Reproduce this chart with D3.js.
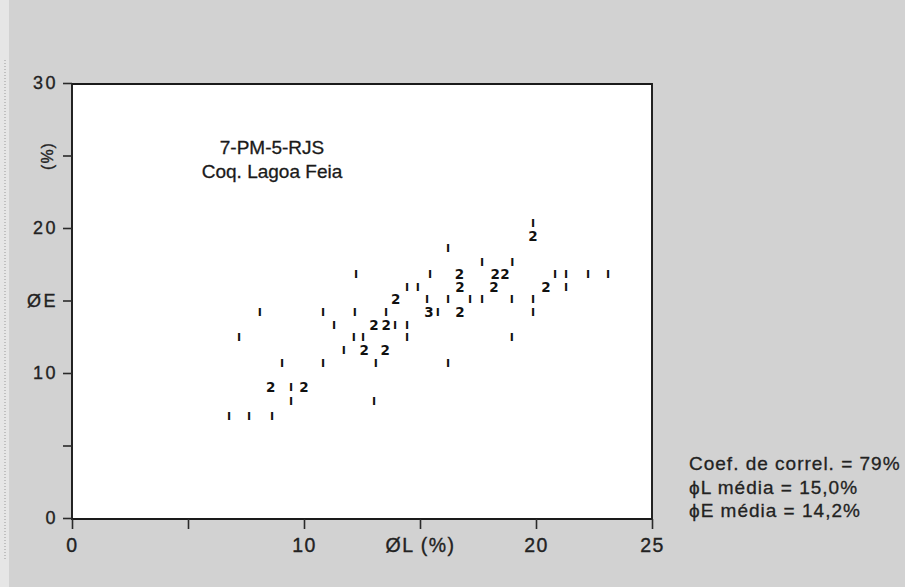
<!DOCTYPE html>
<html><head><meta charset="utf-8">
<script src="https://cdn.jsdelivr.net/npm/d3@7"></script>
<style>body{margin:0;background:#d2d2d2}svg{display:block}</style>
</head><body><svg id="c" width="905" height="587"></svg>
<script>
// ---- data (ØL %, ØE %, number of samples at that position) ----
const phiL = [19.87, 19.87, 16.21, 17.67, 18.98,
  12.24, 15.43, 16.70, 18.24, 18.66, 20.82, 21.29, 22.24, 23.11,
  14.44, 14.90, 16.72, 18.19, 20.43, 21.29,
  13.95, 15.30, 16.21, 17.16, 17.67, 18.96, 19.87,
  8.10, 10.82, 12.19, 13.54, 15.39, 15.77, 16.72, 19.87,
  11.30, 13.02, 13.54, 13.92, 14.44,
  7.20, 12.15, 12.55, 14.44, 18.96,
  11.72, 12.59, 13.50,
  9.05, 10.82, 13.10, 16.21,
  8.57, 9.44, 10.00,
  9.44, 13.02,
  6.77, 7.63, 8.62];
const phiE = [20.34, 19.45, 18.62, 17.66, 17.66,
  16.83, 16.83, 16.83, 16.83, 16.83, 16.83, 16.83, 16.83, 16.83,
  15.93, 15.93, 15.93, 15.93, 15.93, 15.93,
  15.10, 15.10, 15.10, 15.10, 15.10, 15.10, 15.10,
  14.21, 14.21, 14.21, 14.21, 14.21, 14.21, 14.21, 14.21,
  13.31, 13.31, 13.31, 13.31, 13.31,
  12.48, 12.48, 12.48, 12.48, 12.48,
  11.59, 11.59, 11.59,
  10.69, 10.69, 10.69, 10.69,
  9.03, 9.03, 9.03,
  8.07, 8.07,
  7.03, 7.03, 7.03];
const counts = [1, 2, 1, 1, 1,
  1, 1, 2, 2, 2, 1, 1, 1, 1,
  1, 1, 2, 2, 2, 1,
  2, 1, 1, 1, 1, 1, 1,
  1, 1, 1, 1, 3, 1, 2, 1,
  1, 2, 2, 1, 1,
  1, 1, 1, 1, 1,
  1, 2, 2,
  1, 1, 1, 1,
  2, 1, 2,
  1, 1,
  1, 1, 1];
const xTicks = [0, 5, 10, 15, 20, 25];
const xTickLabels = ["0", "", "10", "ØL (%)", "20", "25"];
const yTicks = [0, 5, 10, 15, 20, 25, 30];
const yTickLabels = ["0", "", "10", "ØE", "20", "(%)", "30"];
const titleLines = ["7-PM-5-RJS", "Coq. Lagoa Feia"];
const statLines = ["Coef. de correl. = 79%", "ϕL média = 15,0%", "ϕE média = 14,2%"];

// ---- drawing ----
const svg = d3.select("#c");
const FONT = "'Liberation Sans', Arial, Helvetica, sans-serif";
const INK = "#222";
const x = d3.scaleLinear().domain([0, 25]).range([72, 652]);
const y = d3.scaleLinear().domain([0, 30]).range([518, 83]);

svg.append("rect").attr("width", 905).attr("height", 587).attr("fill", "#d2d2d2");
svg.append("rect").attr("x", 0).attr("y", 0).attr("width", 9).attr("height", 587).attr("fill", "#e6e6e6");
svg.append("line").attr("x1", 5).attr("x2", 5).attr("y1", 60).attr("y2", 560)
  .attr("stroke", "#9a9a9a").attr("stroke-dasharray", "1,2");

// plot area
const L = 72, R = 652, T = 84, B = 519;
svg.append("rect").attr("x", L).attr("y", T).attr("width", R - L).attr("height", B - T)
  .attr("fill", "#ffffff");
svg.append("path").attr("d", `M${L},${B}V${T}H${R}V${B}Z`)
  .attr("fill", "none").attr("stroke", "#1a1a1a").attr("stroke-width", 1.9);

// axes
const xAxis = svg.append("g").attr("transform", `translate(0,${B})`)
  .call(d3.axisBottom(x).tickValues(xTicks).tickSize(10).tickPadding(9)
    .tickFormat((d, i) => xTickLabels[i]));
const yAxis = svg.append("g").attr("transform", `translate(${L},0)`)
  .call(d3.axisLeft(y).tickValues(yTicks).tickSize(9).tickPadding(5)
    .tickFormat((d, i) => yTickLabels[i]));
[xAxis, yAxis].forEach(g => {
  g.select(".domain").remove();
  g.selectAll(".tick line").attr("stroke", "#2a2a2a").attr("stroke-width", 1.6);
  g.selectAll(".tick text").attr("fill", INK).attr("stroke", INK).attr("stroke-width", 0.35)
    .style("font-family", FONT);
});
xAxis.selectAll(".tick text").style("font-size", "19.5px").style("letter-spacing", "1.5px");
yAxis.selectAll(".tick text").style("font-size", "18px").style("letter-spacing", "2.5px");
yAxis.selectAll(".tick text").filter((d, i) => yTickLabels[i].length > 2)
  .attr("x", 0).attr("dy", null).attr("text-anchor", "middle")
  .style("letter-spacing", "1px").style("font-size", "16px")
  .attr("transform", "translate(-25,0) rotate(-90) translate(0,6)");

// title
svg.append("g").selectAll("text").data(titleLines).join("text")
  .attr("x", 272).attr("y", (d, i) => 154 + i * 24)
  .attr("text-anchor", "middle").attr("fill", "#1a1a1a")
  .attr("stroke", "#1a1a1a").attr("stroke-width", 0.3)
  .style("font-family", FONT).style("font-size", "19px").text(d => d);

// stats
svg.append("g").selectAll("text").data(statLines).join("text")
  .attr("x", 689).attr("y", (d, i) => 470 + i * 23.5)
  .attr("fill", INK).attr("stroke", INK).attr("stroke-width", 0.3)
  .style("font-family", FONT).style("font-size", "19px").style("letter-spacing", "1px")
  .text(d => d);

// marks: count 1 drawn as "I", otherwise the count digit
const pts = phiL.map((v, i) => ({ l: v, e: phiE[i], n: counts[i] }));
svg.append("g").selectAll("text").data(pts).join("text")
  .attr("x", d => x(d.l)).attr("y", d => y(d.e))
  .attr("dy", "0.36em").attr("text-anchor", "middle").attr("fill", "#111")
  .style("font-family", "'DejaVu Sans', sans-serif").style("font-weight", "bold")
  .style("font-size", d => d.n === 1 ? "11px" : "13.5px")
  .text(d => d.n === 1 ? "I" : String(d.n));
</script></body></html>
